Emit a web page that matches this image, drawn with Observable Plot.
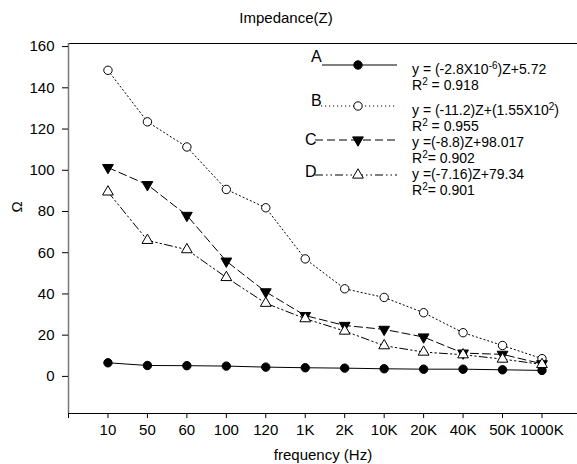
<!DOCTYPE html>
<html>
<head>
<meta charset="utf-8">
<script src="https://cdn.jsdelivr.net/npm/d3@7"></script>
<script src="https://cdn.jsdelivr.net/npm/@observablehq/plot@0.6"></script>
<style>
  html, body { margin: 0; padding: 0; background: #fff; }
  #wrap { position: relative; width: 577px; height: 464px; overflow: hidden; font-family: "Liberation Sans", Arial, sans-serif; color: #000; }
  #wrap svg { position: absolute; left: 0; top: 0; }
  .t { position: absolute; white-space: nowrap; line-height: 14px; }
  .t sup { font-size: 10px; line-height: 0; vertical-align: 0; position: relative; top: -5px; }
</style>
</head>
<body>
<div id="wrap"></div>
<script>
const freqLabels = ["10", "50", "60", "100", "120", "1K", "2K", "10K", "20K", "40K", "50K", "1000K"];
const seriesA = [6.6, 5.3, 5.2, 5.0, 4.5, 4.2, 4.0, 3.7, 3.5, 3.5, 3.2, 2.9];
const seriesB = [148.5, 123.5, 111.3, 90.7, 81.8, 57.0, 42.5, 38.3, 30.9, 21.2, 15.0, 8.6];
const seriesC = [101.3, 93.0, 78.1, 55.9, 41.0, 29.5, 24.7, 22.8, 19.1, 11.3, 10.7, 6.1];
const seriesD = [89.5, 66.0, 61.5, 48.0, 35.5, 28.0, 22.0, 14.9, 11.8, 10.5, 8.4, 5.8];
const yTicks = [0, 20, 40, 60, 80, 100, 120, 140, 160];
const legendKeys = ["A", "B", "C", "D"];
const legendEquations = [
  "y = (-2.8X10<sup>-6</sup>)Z+5.72",
  "y = (-11.2)Z+(1.55X10<sup>2</sup>)",
  "y =(-8.8)Z+98.017",
  "y =(-7.16)Z+79.34"
];
const legendR2 = [
  "R<sup>2</sup> = 0.918",
  "R<sup>2</sup> = 0.955",
  "R<sup>2</sup>= 0.902",
  "R<sup>2</sup>= 0.901"
];

const yDomain = [-18, 161.5];
const xDomain = [0, 12.9];

const rows = s => s.map((v, i) => ({ i: i + 1, v }));
const styles = [
  { data: seriesA, dash: null, symbol: "circle", fill: "black", rotate: 0, r: 4.2 },
  { data: seriesB, dash: "1.2,2.8", symbol: "circle", fill: "white", rotate: 0, r: 4.2 },
  { data: seriesC, dash: "8,4", symbol: "triangle", fill: "black", rotate: 180, r: 4 },
  { data: seriesD, dash: "8,3,1.5,3,1.5,3", symbol: "triangle", fill: "white", rotate: 0, r: 4 }
];

const marks = [];
styles.forEach(s => {
  marks.push(Plot.line(rows(s.data), { x: "i", y: "v", stroke: "black", strokeWidth: 1, strokeDasharray: s.dash }));
});
styles.forEach(s => {
  marks.push(Plot.dot(rows(s.data), { x: "i", y: "v", symbol: s.symbol, r: s.r, fill: s.fill, stroke: "black", strokeWidth: 1, rotate: s.rotate }));
});

const chart = Plot.plot({
  width: 577,
  height: 464,
  marginLeft: 68,
  marginRight: 0,
  marginTop: 43,
  marginBottom: 51,
  style: { fontSize: "15px", fontFamily: "'Liberation Sans', Arial, sans-serif", color: "black", background: "white" },
  x: { domain: xDomain },
  y: { domain: yDomain },
  marks: [
    Plot.ruleY([yDomain[1]], { stroke: "black", strokeWidth: 1 }),
    Plot.ruleY([yDomain[0]], { stroke: "black", strokeWidth: 1 }),
    Plot.ruleX([xDomain[0]], { stroke: "#777", strokeWidth: 1.5 }),
    Plot.axisY({ ticks: yTicks, tickSize: 6, tickPadding: 8, fontSize: 15, label: null }),
    Plot.axisX({ ticks: d3.range(0, freqLabels.length + 1), tickFormat: i => i === 0 ? "" : freqLabels[i - 1], tickSize: 5, tickPadding: 6, fontSize: 15, label: "frequency (Hz)", labelAnchor: "center", labelOffset: 46, labelArrow: "none" }),
    ...marks
  ]
});

const wrap = document.getElementById("wrap");
wrap.appendChild(chart);

// title
const title = document.createElement("div");
title.className = "t";
title.style.cssText = "left:0;width:572px;text-align:center;top:11px;font-size:15px;";
title.textContent = "Impedance(Z)";
wrap.appendChild(title);

// y label
const ylab = document.createElement("div");
ylab.className = "t";
ylab.style.cssText = "left:9px;top:200px;width:16px;text-align:center;font-size:15px;transform:rotate(-90deg);";
ylab.textContent = "Ω";
wrap.appendChild(ylab);

// legend samples
const legendPos = [
  { letterX: 311, letterY: 57, lineX: 322, lineY: 65 },
  { letterX: 311, letterY: 101, lineX: 321, lineY: 106 },
  { letterX: 305, letterY: 140, lineX: 315, lineY: 140 },
  { letterX: 305, letterY: 172, lineX: 315, lineY: 175 }
];
const eqY = [[69, 85], [110, 126], [142, 158], [174, 190]];
const svg = d3.select(chart);
const g = svg.append("g");
legendKeys.forEach((k, idx) => {
  const p = legendPos[idx], s = styles[idx];
  g.append("line").attr("x1", p.lineX).attr("x2", 397).attr("y1", p.lineY).attr("y2", p.lineY)
    .attr("stroke", "black").attr("stroke-width", 1).attr("stroke-dasharray", s.dash);
  const sym = s.symbol === "circle" ? d3.symbolCircle : d3.symbolTriangle;
  g.append("path").attr("d", d3.symbol(sym, Math.PI * s.r * s.r)())
    .attr("transform", `translate(358,${p.lineY}) rotate(${s.rotate})`)
    .attr("fill", s.fill).attr("stroke", "black");
  const letter = document.createElement("div");
  letter.className = "t";
  letter.style.cssText = `left:${p.letterX}px;top:${p.letterY - 7}px;font-size:16px;`;
  letter.textContent = k;
  wrap.appendChild(letter);
  [legendEquations[idx], legendR2[idx]].forEach((txt, j) => {
    const d = document.createElement("div");
    d.className = "t";
    d.style.cssText = `left:412px;top:${eqY[idx][j] - 7}px;font-size:14px;`;
    d.innerHTML = txt;
    wrap.appendChild(d);
  });
});
</script>
</body>
</html>
